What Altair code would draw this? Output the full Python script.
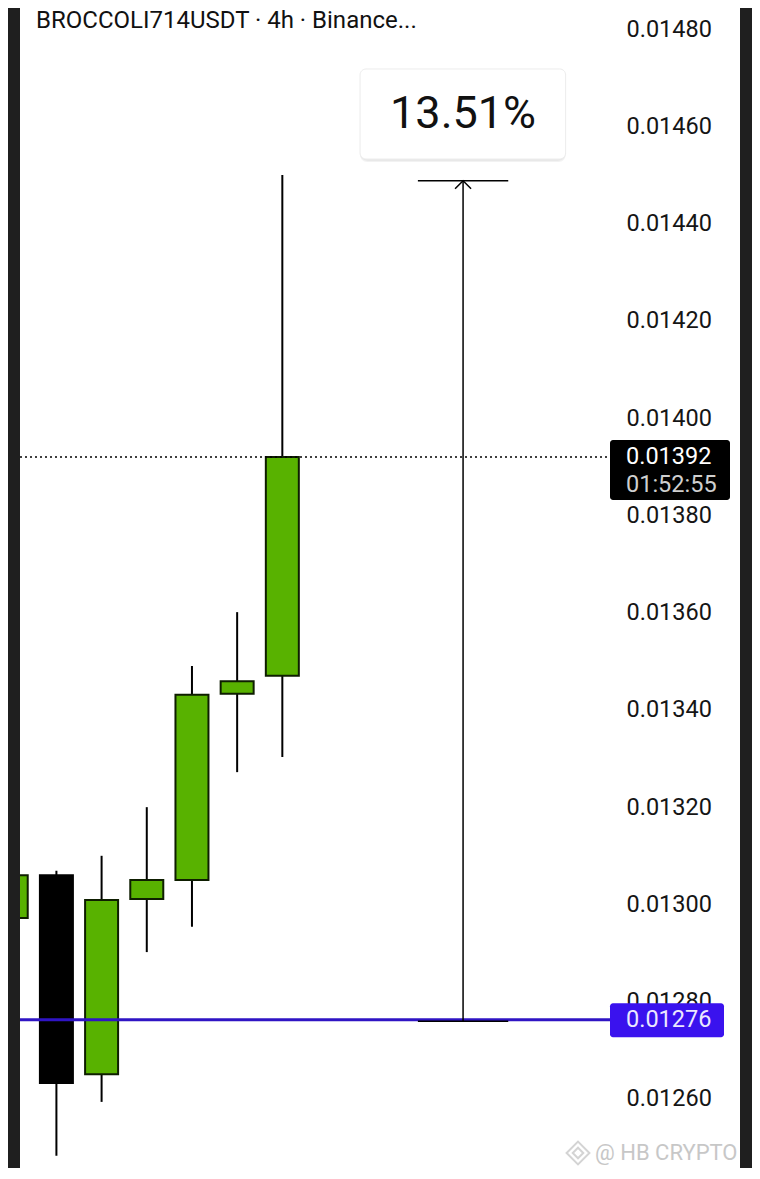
import altair as alt
import pandas as pd

# ---------------- data ----------------
idx    = [0, 1, 2, 3, 4, 5, 6]
opens  = [0.012972, 0.013060, 0.012651, 0.013011, 0.013050, 0.013433, 0.013470]
highs  = [0.013080, 0.013069, 0.013100, 0.013200, 0.013490, 0.013601, 0.014500]
lows   = [0.012920, 0.012483, 0.012594, 0.012902, 0.012954, 0.013272, 0.013303]
closes = [0.013060, 0.012633, 0.013009, 0.013050, 0.013431, 0.013459, 0.013920]

tick_values = [0.0126, 0.0128, 0.0130, 0.0132, 0.0134, 0.0136, 0.0138,
               0.0140, 0.0142, 0.0144, 0.0146, 0.0148]

last_price = 0.01392
last_label = "0.01392"
countdown = "01:52:55"
support_price = 0.01276
support_label = "0.01276"
meas_low, meas_high = 0.01276, 0.014488
meas_x, meas_x0, meas_x1 = 10, 9, 11
pct_label = "13.51%"
title_text = "BROCCOLI714USDT · 4h · Binance..."
watermark = "@ HB CRYPTO"

# ---------------- layout ----------------
W, H = 744, 1160
PX = 2.05613e-6          # price per pixel
YMAX = 0.01480 + 21 * PX
YMIN = 0.01480 - (H + 8 - 29) * PX
XMIN = 1.8 / 45.8
XMAX = (W + 1.8) / 45.8
GREEN = "#58b200"
EDGE = "#0e1e00"
PURPLE_LINE = "#2f14c4"
PURPLE_BOX = "#3a12ee"
FRAME = "#1f1f1f"
FONT = "Roboto"

df = pd.DataFrame({"i": idx, "open": opens, "high": highs, "low": lows, "close": closes})
df["dir"] = ["up" if c >= o else "down" for o, c in zip(opens, closes)]

ysc = alt.Scale(domain=[YMIN, YMAX], nice=False, zero=False)
xsc = alt.Scale(domain=[XMIN, XMAX], nice=False, zero=False)
yax = alt.Axis(orient="right", values=tick_values, format=".5f", offset=-(W - 618),
               domain=False, ticks=False, tickSize=0, labelPadding=0,
               labelAlign="left", labelBaseline="middle", labelFont=FONT,
               labelFontSize=23.5, labelColor="#151515", grid=False,
               title=None, labelOverlap=False, labelBound=False, zindex=0)


def Yq(field):
    return alt.Y(field, type="quantitative", scale=ysc, axis=yax)


def Xq(field):
    return alt.X(field, type="quantitative", scale=xsc, axis=None)


base = alt.Chart(df)

wicks = base.mark_rule(strokeWidth=2, color="#000000", clip=True).encode(
    x=Xq("i"), y=Yq("low"), y2="high")

bodies = base.mark_bar(size=33, orient="vertical", strokeWidth=2, clip=True).encode(
    x=Xq("i"), y=Yq("open"), y2="close",
    fill=alt.Fill("dir:N", scale=alt.Scale(domain=["up", "down"], range=[GREEN, "#000000"]), legend=None),
    stroke=alt.Stroke("dir:N", scale=alt.Scale(domain=["up", "down"], range=[EDGE, "#000000"]), legend=None))

lvl = pd.DataFrame({"v": [last_price], "s": [support_price]})
dotted = alt.Chart(lvl).mark_rule(strokeDash=[2, 3], strokeWidth=1.5, color="#000000").encode(
    y=Yq("v"), x=alt.value(12), x2=alt.value(602))
support = alt.Chart(lvl).mark_rule(strokeWidth=3, color=PURPLE_LINE, yOffset=-1.5).encode(
    y=Yq("s"), x=alt.value(12), x2=alt.value(602))

meas = pd.DataFrame({"x": [meas_x], "lo": [meas_low], "hi": [meas_high]})
meas_line = alt.Chart(meas).mark_rule(strokeWidth=1.5, color="#000000").encode(
    x=Xq("x"), y=Yq("lo"), y2="hi")
caps = pd.DataFrame({"a": [meas_x0, meas_x0], "b": [meas_x1, meas_x1], "v": [meas_low, meas_high]})
meas_caps = alt.Chart(caps).mark_rule(strokeWidth=1.5, color="#000000").encode(
    x=Xq("a"), x2="b", y=Yq("v"))
arrow = alt.Chart(meas).mark_point(shape="M-1,1L0,0L1,1", size=256, filled=False,
                                   strokeWidth=1.5, color="#000000", opacity=1).encode(
    x=Xq("x"), y=Yq("hi"))

box = pd.DataFrame({"x0": [7.72], "x1": [12.27], "y0": [0.0145327], "y1": [0.0147178],
                    "tx": [meas_x], "ty": [0.0146252], "t": [pct_label]})
shadow1 = alt.Chart(box).mark_rect(cornerRadius=7, fill="#000000", opacity=0.05, yOffset=3).encode(
    x=Xq("x0"), x2="x1", y=Yq("y0"), y2="y1")
shadow2 = alt.Chart(box).mark_rect(cornerRadius=8, fill="#000000", opacity=0.04, yOffset=2).encode(
    x=Xq("x0"), x2="x1", y=Yq("y0"), y2="y1")
pct_box = alt.Chart(box).mark_rect(cornerRadius=6, fill="#ffffff", stroke="#ececec", strokeWidth=1).encode(
    x=Xq("x0"), x2="x1", y=Yq("y0"), y2="y1")
pct_text = alt.Chart(box).mark_text(font=FONT, fontSize=45, color="#111111",
                                    align="center", baseline="middle").encode(
    x=Xq("tx"), y=Yq("ty"), text="t:N")

lab = pd.DataFrame({"v": [last_price], "t": [last_label], "c": [countdown],
                    "s": [support_price], "st": [support_label]})
last_box = alt.Chart(lab).mark_rect(fill="#000000", cornerRadius=3, yOffset=-17, y2Offset=43).encode(
    y=Yq("v"), y2="v", x=alt.value(602), x2=alt.value(722))
last_txt = alt.Chart(lab).mark_text(font=FONT, fontSize=23.5, color="#ffffff",
                                    align="left", baseline="middle").encode(
    y=Yq("v"), x=alt.value(618), text="t:N")
cd_txt = alt.Chart(lab).mark_text(font=FONT, fontSize=23.5, color="#cfcfcf",
                                  align="left", baseline="middle", yOffset=28).encode(
    y=Yq("v"), x=alt.value(618), text="c:N")
sup_box = alt.Chart(lab).mark_rect(fill=PURPLE_BOX, cornerRadius=3, yOffset=-18, y2Offset=16).encode(
    y=Yq("s"), y2="s", x=alt.value(602), x2=alt.value(716))
sup_txt = alt.Chart(lab).mark_text(font=FONT, fontSize=23.5, color="#ece8ff",
                                   align="left", baseline="middle", yOffset=-1).encode(
    y=Yq("s"), x=alt.value(618), text="st:N")

frame_l = alt.Chart(lab).mark_rect(fill=FRAME).encode(
    x=alt.value(0), x2=alt.value(12), y=alt.value(0), y2=alt.value(H))
frame_r = alt.Chart(lab).mark_rect(fill=FRAME).encode(
    x=alt.value(732), x2=alt.value(W), y=alt.value(0), y2=alt.value(H))

title = alt.Chart(pd.DataFrame({"t": [title_text]})).mark_text(
    font=FONT, fontSize=24, color="#111111", align="left", baseline="alphabetic").encode(
    x=alt.value(28), y=alt.value(20), text="t:N")

wm = pd.DataFrame({"t": [watermark]})
wm_text = alt.Chart(wm).mark_text(font=FONT, fontSize=22, color="#c2c2c2", opacity=0.9,
                                  align="left", baseline="middle").encode(
    x=alt.value(587), y=alt.value(1145), text="t:N")
wm_logo = alt.Chart(wm).mark_point(shape="diamond", size=520, filled=False, strokeWidth=2,
                                   color="#d0d0d0", opacity=0.9).encode(
    x=alt.value(570), y=alt.value(1145))
wm_logo2 = alt.Chart(wm).mark_point(shape="diamond", size=110, filled=False, strokeWidth=2,
                                    color="#d0d0d0", opacity=0.9).encode(
    x=alt.value(570), y=alt.value(1145))

chart = alt.layer(
    wicks, bodies, dotted, support, meas_line, meas_caps, arrow,
    shadow2, shadow1, pct_box, pct_text,
    last_box, last_txt, cd_txt, sup_box, sup_txt,
    frame_l, frame_r, title, wm_logo, wm_logo2, wm_text
).properties(
    width=W, height=H, padding=0,
    autosize=alt.AutoSizeParams(type="none"),
    background="#ffffff"
).configure_view(stroke=None)

chart.save("out.html", embed_options={"renderer": "svg", "actions": False})
